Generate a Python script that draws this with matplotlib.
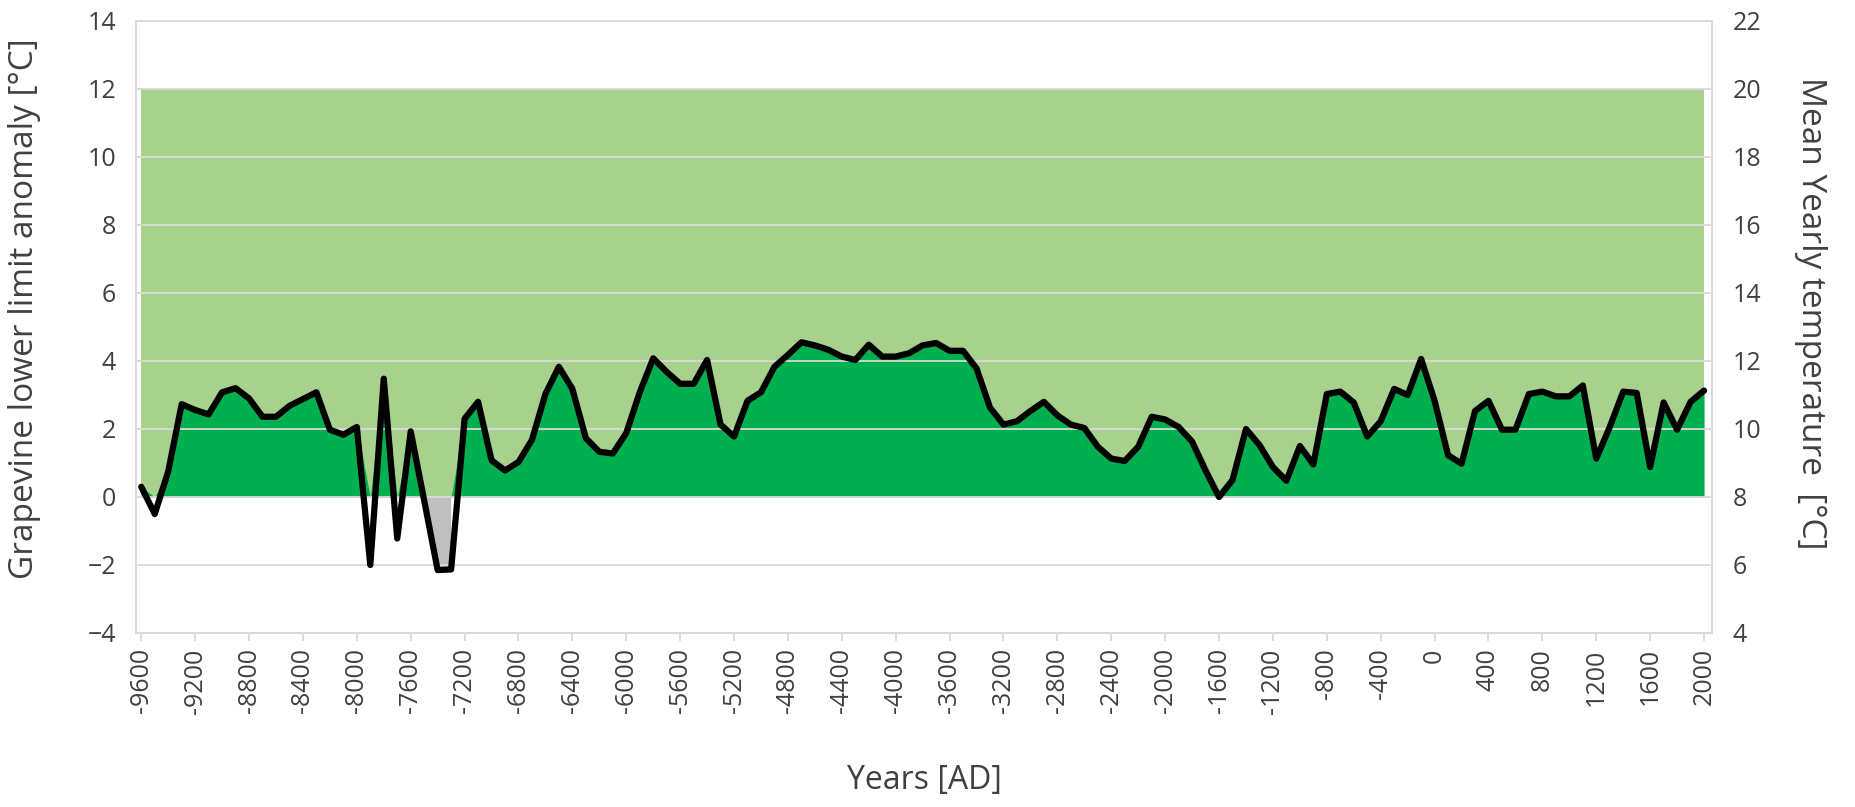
import numpy as np
import matplotlib
matplotlib.use("Agg")
import matplotlib.pyplot as plt

plt.rcParams['font.family'] = ['Open Sans', 'DejaVu Sans']

# ---- data ----
years = list(range(-9600, 2001, 100))
anomaly = [
    0.3, -0.5, 0.75, 2.73, 2.56, 2.43, 3.08, 3.2, 2.9, 2.36, 2.36, 2.68, 2.88, 3.08, 1.98, 1.83, 2.06,
    -2.0, 3.48, -1.22, 1.93, -0.1, -2.15, -2.13, 2.3, 2.8, 1.08, 0.78, 1.03, 1.68, 3.03, 3.83, 3.18,
    1.73, 1.33, 1.28, 1.88, 3.08, 4.08, 3.68, 3.33, 3.33, 4.03, 2.13, 1.78, 2.83, 3.08, 3.83, 4.18, 4.55,
    4.46, 4.33, 4.13, 4.03, 4.48, 4.13, 4.13, 4.23, 4.46, 4.53, 4.3, 4.3, 3.78, 2.63, 2.13, 2.23,
    2.53, 2.8, 2.4, 2.13, 2.03, 1.48, 1.13, 1.06, 1.48, 2.36, 2.28, 2.06, 1.63, 0.78, 0.0, 0.5,
    2.0, 1.53, 0.88, 0.48, 1.5, 0.96, 3.03, 3.1, 2.78, 1.78, 2.23, 3.18, 3.0, 4.06, 2.83, 1.23,
    0.98, 2.53, 2.83, 1.98, 1.98, 3.03, 3.1, 2.96, 2.96, 3.28, 1.13, 2.06, 3.1, 3.06, 0.88, 2.78, 1.98, 2.8, 3.13,
]
band_low = [0] * len(years)
band_high = [12] * len(years)
xtick_labels = list(range(-9600, 2001, 400))
left_ticks = list(range(-4, 15, 2))
right_ticks = list(range(4, 23, 2))

x = np.array(years)
v = np.array(anomaly)

W, H = 1855, 807
fig = plt.figure(figsize=(W / 100, H / 100), dpi=100)
ax = fig.add_axes([135.6 / W, 1 - 633 / H, (1712 - 135.6) / W, (633 - 21) / H])

light = '#A9D18E'
dark = '#00B050'
grey = '#BFBFBF'
gridc = '#D9D9D9'
txt = '#404040'

ax.fill_between(x, band_low, band_high, color=light, lw=0, zorder=1)
ax.fill_between(x, 0, np.maximum(v, 0), color=dark, lw=0, zorder=1.2)
ax.fill_between(x, 0, v, where=v < 0, color=grey, lw=0, zorder=1.2)
ax.plot(x, v, color='black', lw=4.5, solid_joinstyle='round', solid_capstyle='round', zorder=3)

ax.set_xlim(-9642, 2059)
ax.set_ylim(-4, 14)
ax.set_yticks(left_ticks)
ax.set_xticks(xtick_labels)
ax.set_xticklabels([str(t) for t in xtick_labels], rotation=90)
ax.grid(axis='y', color=gridc, lw=1.3)
ax.set_axisbelow(False)
for s in ax.spines.values():
    s.set_color(gridc)
    s.set_linewidth(1.3)
ax.tick_params(axis='x', length=6, color=gridc, width=1.3, pad=5, labelsize=18, labelcolor=txt)
ax.tick_params(axis='y', length=0, pad=14, labelsize=18, labelcolor=txt)

ax2 = ax.twinx()
ax2.set_ylim(4, 22)
ax2.set_yticks(right_ticks)
ax2.tick_params(axis='y', length=0, pad=15, labelsize=18, labelcolor=txt)
for s in ax2.spines.values():
    s.set_visible(False)

fig.text(25 / W, 1 - 309 / H, 'Grapevine lower limit anomaly [°C]', rotation=90,
         ha='center', va='center', fontsize=24, color=txt)
fig.text(1810 / W, 1 - 313 / H, 'Mean Yearly temperature  [°C]', rotation=270,
         ha='center', va='center', fontsize=24, color=txt)
fig.text(924 / W, 1 - 781 / H, 'Years [AD]', ha='center', va='center', fontsize=23, color=txt)

fig.savefig('out.png', dpi=100)
